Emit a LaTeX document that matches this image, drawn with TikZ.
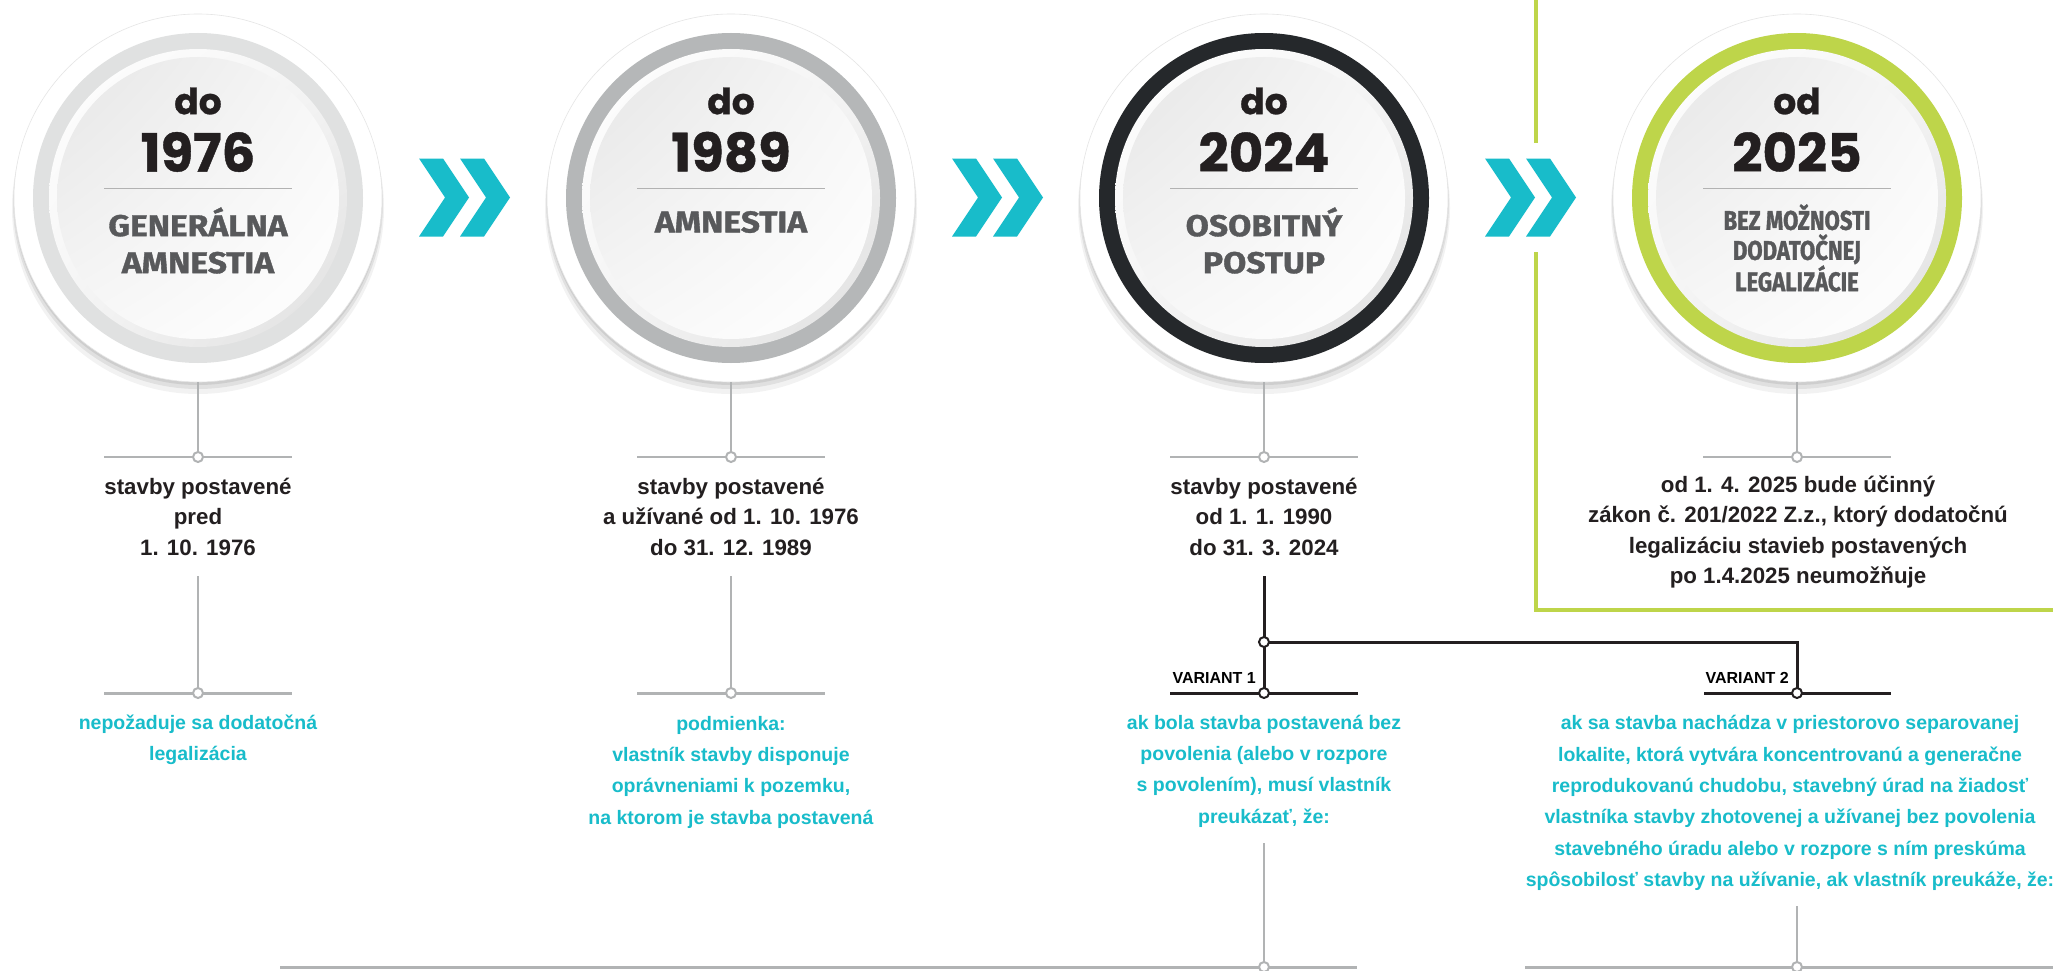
\documentclass[tikz,border=0pt]{standalone}
\usepackage{fontspec}
\setmainfont{Liberation Sans}
\newfontfamily\headfont[FakeBold=0.8]{Poppins}
\newfontfamily\capsfont[FakeStretch=1.12, FakeBold=1.2]{Fira Sans}
\newfontfamily\narrowfont[FakeStretch=0.82, FakeBold=1.2]{Fira Sans}
\usetikzlibrary{shadings}
\definecolor{linegray}{HTML}{B1B3B4}
\definecolor{inkdark}{HTML}{231F20}
\definecolor{labelgray}{HTML}{58595B}
\definecolor{tealtext}{HTML}{18BCCA}
\definecolor{ringA}{HTML}{E0E1E1}
\definecolor{ringB}{HTML}{B5B7B8}
\definecolor{ringC}{HTML}{25282B}
\definecolor{ringD}{HTML}{BED54A}
\tikzset{
  stem/.style={draw=linegray, line width=2pt},
  rail/.style={draw=linegray, line width=3pt},
  darkline/.style={draw=inkdark, line width=3pt},
  dot/.style={circle, draw=linegray, fill=white, line width=2pt, inner sep=0pt, minimum size=10pt},
  darkdot/.style={dot, draw=inkdark},
  headdo/.style={font=\headfont\bfseries\fontsize{36}{36}\selectfont, text=inkdark, inner sep=0pt},
  headyear/.style={font=\headfont\bfseries\fontsize{53}{53}\selectfont, text=inkdark, inner sep=0pt},
  headlabel/.style={font=\capsfont\bfseries\fontsize{30}{37}\selectfont, text=labelgray, align=center, inner sep=0pt},
  headnarrow/.style={font=\narrowfont\bfseries\fontsize{27}{30}\selectfont, text=labelgray, align=center, inner sep=0pt},
  blacktext/.style={font=\bfseries\fontsize{22.3}{30.5}\selectfont, text=inkdark, align=center, inner sep=0pt},
  cyantext/.style={font=\bfseries\fontsize{19.5}{31.3}\selectfont, text=tealtext, align=center, inner sep=0pt},
  varlabel/.style={font=\bfseries\fontsize{16}{16}\selectfont, text=black, inner sep=0pt}
}
\begin{document}
\begin{tikzpicture}[x=1pt,y=-1pt]
  \useasboundingbox (0,0) rectangle (2053,971);
  \fill[white] (0,0) rectangle (2053,971);
  % green frame of the last period
  \draw[ringD, line width=3.5pt] (1536,-5) -- (1536,610) -- (2060,610);
  % the four milestones
  \foreach \cx/\rc/\nm in {198/ringA/c1, 731/ringB/c2, 1264/ringC/c3, 1797/ringD/c4} {
    \fill[black, opacity=.05] (\cx,208) circle[radius=186];
    \fill[black, opacity=.07] (\cx,204) circle[radius=185];
    \fill[black, opacity=.08] (\cx,201) circle[radius=184];
    \node (\nm) [circle, fill=white, draw=gray!20, line width=.6pt, minimum size=368pt, inner sep=0pt] at (\cx,198) {};
    \fill[\rc] (\cx,198) circle[radius=165];
    \shade[upper left=white, lower right=gray!25, upper right=gray!8, lower left=gray!8] (\cx,198) circle[radius=149];
    \shade[upper left=gray!20, lower right=white, upper right=gray!6, lower left=gray!6] (\cx,198) circle[radius=141];
    \draw[gray!60, line width=.8pt] (\cx-94,188) -- (\cx+94,188);
  }
  \node (do1) [headdo] at (198,101) {do};
  \node (y1) [headyear] at (198,152) {1976};
  \node (lab1) [headlabel] at (198,240.5) {GENERÁLNA\\AMNESTIA};
  \node (do2) [headdo] at (731,101) {do};
  \node (y2) [headyear] at (731,152) {1989};
  \node (lab2) [headlabel] at (731,222) {AMNESTIA};
  \node (do3) [headdo] at (1264,101) {do};
  \node (y3) [headyear] at (1264,152) {2024};
  \node (lab3) [headlabel] at (1264,240.5) {OSOBITNÝ\\POSTUP};
  \node (do4) [headdo] at (1797,101) {od};
  \node (y4) [headyear] at (1797,152) {2025};
  \node (lab4) [headnarrow] at (1797,248) {BEZ MOŽNOSTI\\DODATOČNEJ\\LEGALIZÁCIE};
  % chevrons between the milestones
  \fill[white] (1480,143) rectangle (1581,252);
  \foreach \mx in {464.5, 997.5, 1530.5} {
    \fill[tealtext] (\mx-45.5,158.5) -- ++(24,0) -- ++(26,39) -- ++(-26,39) -- ++(-24,0) -- ++(26,-39) -- cycle;
    \fill[tealtext] (\mx-4.5,158.5) -- ++(24,0) -- ++(26,39) -- ++(-26,39) -- ++(-24,0) -- ++(26,-39) -- cycle;
  }
  % points of the lines
  \coordinate (p1) at (198,457);
  \coordinate (p2) at (731,457);
  \coordinate (p3) at (1264,457);
  \coordinate (p4) at (1797,457);
  \coordinate (k1) at (198,576);
  \coordinate (k2) at (731,576);
  \coordinate (k3) at (1264,576);
  \coordinate (q1) at (198,693);
  \coordinate (q2) at (731,693);
  \coordinate (j3) at (1264,642);
  \coordinate (v1) at (1264,693);
  \coordinate (v2) at (1797,693);
  \coordinate (k4) at (1264,843);
  \coordinate (k5) at (1797,906);
  \coordinate (b1) at (1264,967);
  \coordinate (b2) at (1797,967);
  \coordinate (e1) at (280,967);
  \coordinate (e2) at (1357,967);
  \coordinate (e3) at (1525,967);
  \coordinate (e4) at (2060,967);
  % gray rails and stems
  \foreach \pt in {p1,p2,p3,p4} {
    \draw[stem, line width=2.5pt] ([xshift=-94pt]\pt) -- ([xshift=94pt]\pt);
  }
  \draw[rail] ([xshift=-94pt]q1) -- ([xshift=94pt]q1);
  \draw[rail] ([xshift=-94pt]q2) -- ([xshift=94pt]q2);
  \draw[stem] (c1) -- (p1);
  \draw[stem] (c2) -- (p2);
  \draw[stem] (c3) -- (p3);
  \draw[stem] (c4) -- (p4);
  \draw[stem] (k1) -- (q1);
  \draw[stem] (k2) -- (q2);
  \draw[stem] (k4) -- (b1);
  \draw[stem] (k5) -- (b2);
  \draw[rail] (e1) -- (e2);
  \draw[rail] (e3) -- (e4);
  % dark branch of the special procedure
  \draw[darkline] ([xshift=-94pt]v1) -- ([xshift=94pt]v1);
  \draw[darkline] ([xshift=-93pt]v2) -- ([xshift=94pt]v2);
  \draw[darkline] (k3) -- (v1);
  \draw[darkline] (j3) -| (v2);
  \foreach \pt in {p1,p2,p3,p4,q1,q2,b1,b2} {
    \node[dot] at (\pt) {};
  }
  \foreach \pt in {j3,v1,v2} {
    \node[darkdot] at (\pt) {};
  }
  \node (var1) [varlabel, anchor=base east] at (1256,683) {VARIANT 1};
  \node (var2) [varlabel, anchor=base east] at (1789,683) {VARIANT 2};
  % texts
  \node (t1) [blacktext] at (198,516.5) {stavby postavené\\pred\\1. 10. 1976};
  \node (t2) [blacktext] at (731,516.5) {stavby postavené\\a užívané od 1. 10. 1976\\do 31. 12. 1989};
  \node (t3) [blacktext] at (1264,516.5) {stavby postavené\\od 1. 1. 1990\\do 31. 3. 2024};
  \node (t4) [blacktext] at (1798,532) {od 1. 4. 2025 bude účinný\\zákon č. 201/2022 Z.z., ktorý dodatočnú\\legalizáciu stavieb postavených\\po 1.4.2025 neumožňuje};
  \node (n1) [cyantext] at (198,739.5) {nepožaduje sa dodatočná\\legalizácia};
  \node (n2) [cyantext] at (731,772) {podmienka:\\vlastník stavby disponuje\\oprávneniami k pozemku,\\na ktorom je stavba postavená};
  \node (n3) [cyantext] at (1264,771) {ak bola stavba postavená bez\\povolenia (alebo v rozpore\\s povolením), musí vlastník\\preukázať, že:};
  \node (n4) [cyantext] at (1790,803) {ak sa stavba nachádza v priestorovo separovanej\\lokalite, ktorá vytvára koncentrovanú a generačne\\reprodukovanú chudobu, stavebný úrad na žiadosť\\vlastníka stavby zhotovenej a užívanej bez povolenia\\stavebného úradu alebo v rozpore s ním preskúma\\spôsobilosť stavby na užívanie, ak vlastník preukáže, že:};
\end{tikzpicture}
\end{document}
